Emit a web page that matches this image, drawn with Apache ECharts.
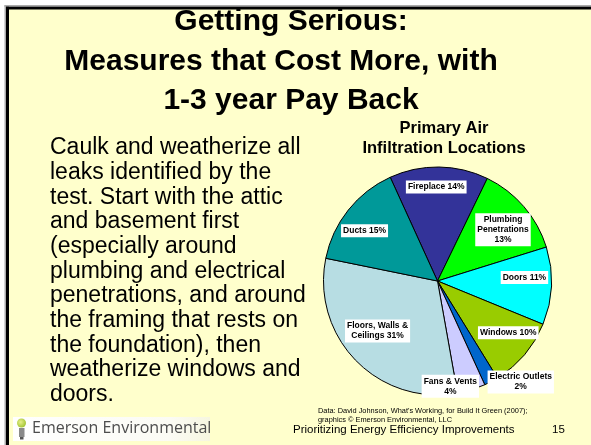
<!DOCTYPE html>
<html>
<head>
<meta charset="utf-8">
<script src="https://cdn.jsdelivr.net/npm/echarts@6/dist/echarts.min.js"></script>
<style>
html,body{margin:0;padding:0;background:#fff;}
#c{width:591px;height:445px;}
</style>
</head>
<body>
<div id="c"></div>
<script>
// ---- data ----
const categories = ['Fireplace', 'Plumbing Penetrations', 'Doors', 'Windows', 'Electric Outlets', 'Fans & Vents', 'Floors, Walls & Ceilings', 'Ducts'];
const values = [14, 13, 11, 10, 2, 4, 31, 15];
const labelTexts = ['Fireplace 14%', 'Plumbing\nPenetrations\n13%', 'Doors 11%', 'Windows 10%', 'Electric Outlets\n2%', 'Fans & Vents\n4%', 'Floors, Walls &\nCeilings 31%', 'Ducts 15%'];
const titleLines = ['Getting Serious:', 'Measures that Cost More, with', '1-3 year Pay Back'];
const chartTitleLines = ['Primary Air', 'Infiltration Locations'];
const bodyLines = ['Caulk and weatherize all', 'leaks identified by the', 'test. Start with the attic', 'and basement first', '(especially around', 'plumbing and electrical', 'penetrations, and around', 'the framing that rests on', 'the foundation), then', 'weatherize windows and', 'doors.'];
const sourceLines = ["Data: David Johnson, What's Working, for Build It Green (2007);", 'graphics \u00A9 Emerson Environmental, LLC'];
const footerText = 'Prioritizing Energy Efficiency Improvements';
const pageNumber = '15';
const logoText = 'Emerson Environmental';

// ---- styles ----
const sliceColors = ['#333399', '#00FF00', '#00FFFF', '#99CC00', '#0066CC', '#CCCCFF', '#B7DDE3', '#009999'];
const labelShift = [[-2, -34], [20, -12], [27, -6], [25, 13], [55, 48], [-5, 48], [-17, 8], [-26, -13]];

const F = 'Liberation Sans, Arial, sans-serif';
const chart = echarts.init(document.getElementById('c'), null, {renderer: 'canvas'});

const graphics = [
  {type: 'rect', shape: {x: 0, y: 0, width: 591, height: 445}, style: {fill: '#ffffff'}, z: -10},
  {type: 'rect', shape: {x: 5, y: 5, width: 586, height: 440}, style: {fill: '#FFFFCC'}, z: -9},
  {type: 'rect', shape: {x: 4.5, y: 5, width: 586.5, height: 2}, style: {fill: '#aaaaaa'}, z: -8},
  {type: 'rect', shape: {x: 4.5, y: 5, width: 1.5, height: 440}, style: {fill: '#aaaaaa'}, z: -8},
  {type: 'rect', shape: {x: 6, y: 6.8, width: 585, height: 2.6}, style: {fill: '#000000'}, z: -7},
  {type: 'rect', shape: {x: 6, y: 6.8, width: 3, height: 438.2}, style: {fill: '#000000'}, z: -7},
  // logo
  {type: 'rect', shape: {x: 13, y: 417, width: 197, height: 24},
   style: {fill: new echarts.graphic.LinearGradient(0, 0, 1, 0, [{offset: 0, color: '#ffffff'}, {offset: 0.8, color: '#fbfbf4'}, {offset: 1, color: '#f6f6e0'}])}, z: -6},
  {type: 'circle', shape: {cx: 21.5, cy: 423, r: 4.5},
   style: {fill: new echarts.graphic.RadialGradient(0.4, 0.4, 0.7, [{offset: 0, color: '#e6f08a'}, {offset: 1, color: '#9cbf2a'}])}},
  {type: 'rect', shape: {x: 19, y: 428, width: 5.5, height: 9}, style: {fill: '#8a8a8a'}},
  {type: 'rect', shape: {x: 20, y: 437, width: 3.5, height: 2.5}, style: {fill: '#555555'}},
  {type: 'text', style: {text: logoText, x: 32, y: 428, fontFamily: 'Open Sans, DejaVu Sans, sans-serif', fontSize: 16, fill: '#4d4d4d', align: 'left', verticalAlign: 'middle'}},
  // body
  {type: 'text', style: {text: bodyLines.join('\n'), x: 50, y: 135.5, fontFamily: F, fontSize: 23, lineHeight: 24.7, fill: '#000', align: 'left', verticalAlign: 'top'}},
  // chart title
  {type: 'text', style: {text: chartTitleLines[0], x: 444, y: 128.5, fontFamily: F, fontSize: 16.5, fontWeight: 'bold', fill: '#000', align: 'center', verticalAlign: 'middle'}},
  {type: 'text', style: {text: chartTitleLines[1], x: 444, y: 148.5, fontFamily: F, fontSize: 16.5, fontWeight: 'bold', fill: '#000', align: 'center', verticalAlign: 'middle'}},
  // source
  {type: 'text', style: {text: sourceLines[0], x: 318, y: 411, fontFamily: F, fontSize: 7.4, fill: '#000', align: 'left', verticalAlign: 'middle'}},
  {type: 'text', style: {text: sourceLines[1], x: 318, y: 420, fontFamily: F, fontSize: 7.4, fill: '#000', align: 'left', verticalAlign: 'middle'}},
  {type: 'text', style: {text: footerText, x: 293, y: 430, fontFamily: F, fontSize: 11.5, fill: '#000', align: 'left', verticalAlign: 'middle'}},
  {type: 'text', style: {text: pageNumber, x: 552, y: 430, fontFamily: F, fontSize: 11.5, fill: '#000', align: 'left', verticalAlign: 'middle'}}
];
const titleCenters = [291, 281, 291];
const titleMids = [22, 61.5, 100.5];
titleLines.forEach((t, i) => {
  graphics.push({type: 'text', style: {text: t, x: titleCenters[i], y: titleMids[i], fontFamily: F, fontSize: 30, fontWeight: 'bold', fill: '#000', align: 'center', verticalAlign: 'middle'}});
});

chart.setOption({
  animation: false,
  backgroundColor: 'transparent',
  graphic: {elements: graphics},
  series: [{
    type: 'pie',
    center: [437.5, 281],
    radius: 114,
    startAngle: 114.5,
    clockwise: true,
    silent: true,
    color: sliceColors,
    data: categories.map((c, i) => ({name: c, value: values[i]})),
    itemStyle: {borderColor: '#000', borderWidth: 1},
    label: {
      show: true, position: 'inside',
      formatter: p => labelTexts[p.dataIndex],
      backgroundColor: '#ffffff', padding: [2, 2, 1, 2],
      fontFamily: F, fontSize: 8.5, fontWeight: 'bold', lineHeight: 10,
      color: '#000', align: 'center'
    },
    labelLine: {show: false},
    labelLayout: p => ({dx: labelShift[p.dataIndex][0], dy: labelShift[p.dataIndex][1]}),
    emphasis: {disabled: true}
  }]
});
</script>
</body>
</html>
